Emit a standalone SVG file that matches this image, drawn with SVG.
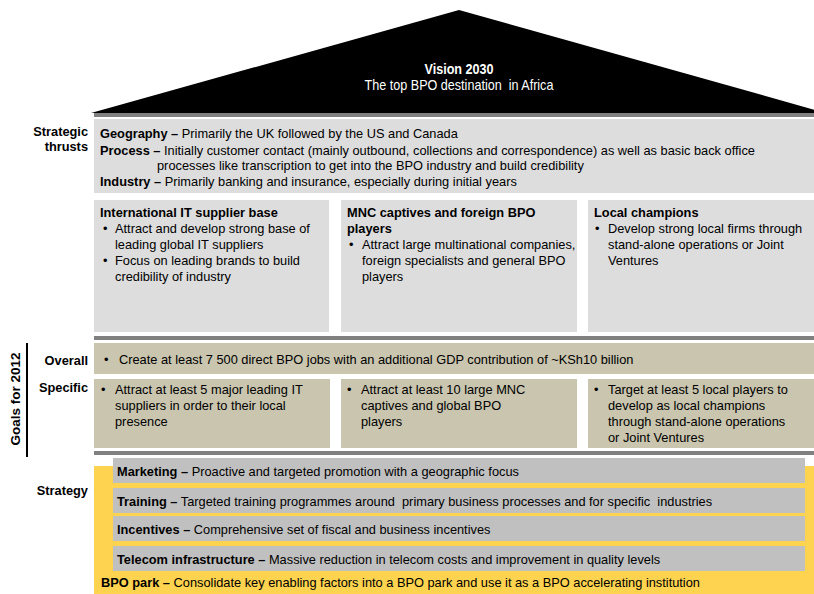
<svg xmlns="http://www.w3.org/2000/svg" width="814" height="594" viewBox="0 0 814 594">
<style>
text{font-family:"Liberation Sans",Arial,sans-serif;font-size:12.8px;fill:#000}
.b{font-weight:bold}
.lbl{font-weight:bold;text-anchor:end}
.lg{fill:#dddddd}
.kh{fill:#c9c5ae}
.bar{fill:#808080}
.sg{fill:#c0c0c0}
.yl{fill:#fdd34f}
.vt{fill:#fff;font-size:14px;text-anchor:middle}
.pre{white-space:pre}
</style>
<rect width="814" height="594" fill="#fff"/>
<g id="vision">
<polygon points="459,10 826,113 91,113" fill="#000"/>
<text class="vt b" x="0" y="0" transform="translate(459,74) scale(0.9,1)">Vision 2030</text>
<text class="vt pre" x="0" y="0" transform="translate(459,90) scale(0.9,1)">The top BPO destination  in Africa</text>
</g>
<g id="dividers">
<rect class="bar" x="94" y="113" width="720" height="4"/>
<rect class="bar" x="94" y="336" width="720" height="4"/>
<rect class="bar" x="94" y="451" width="720" height="4"/>
<rect x="26" y="343" width="2" height="114" fill="#000"/>
</g>
<g id="labels">
<text class="lbl" x="88" y="136">Strategic</text>
<text class="lbl" x="88" y="151">thrusts</text>
<text class="lbl" x="88" y="365">Overall</text>
<text class="lbl" x="88" y="392">Specific</text>
<text class="lbl" x="88" y="495">Strategy</text>
<text class="b" x="0" y="0" text-anchor="middle" transform="translate(20,399) rotate(-90)" style="font-size:13.5px">Goals for 2012</text>
</g>
<g id="thrusts">
<rect class="lg" x="94" y="119" width="720" height="74"/>
<text x="100" y="138"><tspan class="b">Geography –</tspan> Primarily the UK followed by the US and Canada</text>
<text x="100" y="155"><tspan class="b">Process –</tspan> Initially customer contact (mainly outbound, collections and correspondence) as well as basic back office</text>
<text x="157" y="170">processes like transcription to get into the BPO industry and build credibility</text>
<text x="100" y="186"><tspan class="b">Industry –</tspan> Primarily banking and insurance, especially during initial years</text>
</g>
<g id="pillar-it">
<rect class="lg" x="94" y="200" width="235" height="132"/>
<text class="b" x="100" y="217">International IT supplier base</text>
<text x="103" y="233">•</text>
<text x="115" y="233">Attract and develop strong base of</text>
<text x="115" y="249">leading global IT suppliers</text>
<text x="103" y="265">•</text>
<text x="115" y="265">Focus on leading brands to build</text>
<text x="115" y="281">credibility of industry</text>
</g>
<g id="pillar-mnc">
<rect class="lg" x="341" y="200" width="236" height="132"/>
<text class="b" x="347" y="217">MNC captives and foreign BPO</text>
<text class="b" x="347" y="233">players</text>
<text x="349" y="249">•</text>
<text x="362" y="249">Attract large multinational companies,</text>
<text x="362" y="265">foreign specialists and general BPO</text>
<text x="362" y="281">players</text>
</g>
<g id="pillar-local">
<rect class="lg" x="588" y="200" width="226" height="132"/>
<text class="b" x="594" y="217">Local champions</text>
<text x="595" y="233">•</text>
<text x="608" y="233">Develop strong local firms through</text>
<text x="608" y="249">stand-alone operations or Joint</text>
<text x="608" y="265">Ventures</text>
</g>
<g id="goal-overall">
<rect class="kh" x="94" y="343" width="720" height="31"/>
<text x="104" y="364">•</text>
<text x="119" y="364">Create at least 7 500 direct BPO jobs with an additional GDP contribution of ~KSh10 billion</text>
</g>
<g id="goal-it">
<rect class="kh" x="94" y="379" width="236" height="69"/>
<text x="101" y="394">•</text>
<text x="115" y="394">Attract at least 5 major leading IT</text>
<text x="115" y="410">suppliers in order to their local</text>
<text x="115" y="426">presence</text>
</g>
<g id="goal-mnc">
<rect class="kh" x="341" y="379" width="236" height="69"/>
<text x="347" y="394">•</text>
<text x="361" y="394">Attract at least 10 large MNC</text>
<text x="361" y="410">captives and global BPO</text>
<text x="361" y="426">players</text>
</g>
<g id="goal-local">
<rect class="kh" x="588" y="379" width="226" height="69"/>
<text x="594" y="394">•</text>
<text x="608" y="394">Target at least 5 local players to</text>
<text x="608" y="410">develop as local champions</text>
<text x="608" y="426">through stand-alone operations</text>
<text x="608" y="442">or Joint Ventures</text>
</g>
<g id="strategy">
<rect class="yl" x="94" y="466" width="720" height="128"/>
<g id="marketing"><rect class="sg" x="113" y="458" width="692" height="25"/>
<text x="117" y="476"><tspan class="b">Marketing –</tspan> Proactive and targeted promotion with a geographic focus</text></g>
<g id="training"><rect class="sg" x="113" y="488" width="692" height="25"/>
<text class="pre" x="117" y="506"><tspan class="b">Training –</tspan> Targeted training programmes around  primary business processes and for specific  industries</text></g>
<g id="incentives"><rect class="sg" x="113" y="516" width="692" height="25"/>
<text x="117" y="534"><tspan class="b">Incentives –</tspan> Comprehensive set of fiscal and business incentives</text></g>
<g id="telecom"><rect class="sg" x="113" y="546" width="692" height="25"/>
<text x="117" y="564"><tspan class="b">Telecom infrastructure –</tspan> Massive reduction in telecom costs and improvement in quality levels</text></g>
<text x="101" y="587"><tspan class="b">BPO park –</tspan> Consolidate key enabling factors into a BPO park and use it as a BPO accelerating institution</text>
</g>
</svg>
